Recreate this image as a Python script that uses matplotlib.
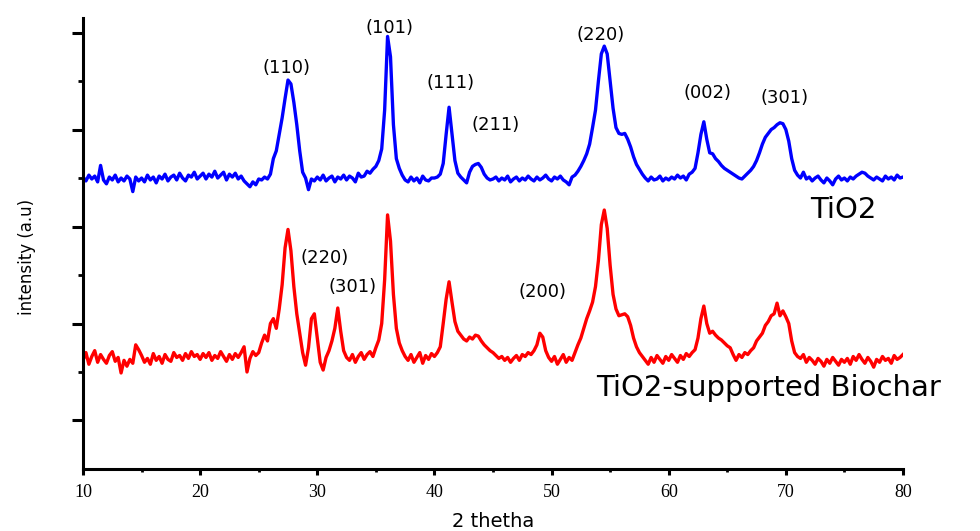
import numpy as np
import matplotlib
matplotlib.use("Agg")
import matplotlib.pyplot as plt
from matplotlib.ticker import FixedLocator

# 2-theta scan, 0.25 deg step from 10 to 80
two_theta = np.arange(281) * 0.25 + 10.0

# TiO2 pattern (arbitrary units)
tio2 = [
    301, 297, 303, 299, 302, 296, 313, 298, 294, 301, 298, 303, 296, 300, 297, 302, 299, 286, 301, 297,
    300, 296, 303, 298, 301, 295, 302, 299, 304, 297, 301, 303, 298, 305, 300, 297, 303, 301, 306, 299,
    302, 305, 299, 304, 301, 307, 300, 303, 306, 298, 304, 301, 305, 299, 302, 297, 294, 291, 296, 293,
    299, 298, 301, 299, 304, 320, 328, 345, 362, 382, 401, 397, 378, 355, 328, 306, 300, 288, 299, 297,
    301, 298, 303, 297, 300, 302, 296, 301, 299, 303, 298, 302, 300, 296, 305, 301, 302, 307, 305, 309,
    312, 318, 330, 370, 446, 425, 355, 320, 310, 303, 298, 296, 301, 297, 300, 295, 302, 298, 297, 300,
    300, 301, 304, 315, 345, 373, 345, 318, 305, 301, 298, 295, 306, 312, 314, 315, 311, 304, 300, 298,
    299, 301, 297, 300, 298, 302, 296, 299, 301, 297, 300, 298, 302, 299, 297, 301, 298, 300, 303, 299,
    297, 301, 299, 302, 298, 296, 293, 301, 303, 307, 312, 318, 325, 335, 352, 370, 400, 428, 436, 428,
    400, 372, 352, 346, 345, 346, 340, 332, 322, 314, 309, 304, 300, 297, 301, 298, 299, 302, 297, 300,
    298, 301, 299, 303, 300, 302, 298, 304, 306, 310, 326, 345, 358, 340, 326, 325, 320, 317, 313, 310,
    308, 306, 304, 302, 300, 299, 302, 305, 308, 312, 318, 326, 335, 342, 346, 350, 352, 355, 357, 356,
    350, 338, 320, 308, 303, 300, 306, 299, 301, 297, 300, 302, 298, 295, 300, 297, 293, 299, 302, 298,
    300, 297, 301, 299, 302, 304, 306, 305, 302, 300, 298, 301, 299, 297, 302, 299, 301, 298, 303, 300,
    301,
]

# TiO2-supported biochar pattern
biochar = [
    112, 120, 108, 116, 122, 110, 118, 113, 109, 117, 121, 111, 115, 99, 112, 106, 113, 109, 128, 123,
    117, 110, 114, 108, 119, 112, 116, 109, 118, 113, 111, 120, 115, 117, 112, 119, 114, 121, 116, 118,
    113, 119, 115, 120, 112, 117, 114, 121, 116, 111, 118, 113, 119, 115, 120, 126, 100, 114, 121, 117,
    120, 130, 138, 132, 150, 155, 145, 165, 190, 228, 247, 225, 188, 160, 140, 120, 107, 125, 155, 160,
    135, 110, 102, 115, 122, 132, 145, 166, 142, 122, 115, 112, 118, 110, 116, 120, 113, 118, 121, 116,
    125, 133, 150, 195, 262, 235, 180, 145, 130, 122, 116, 112, 118, 110, 115, 120, 109, 117, 113, 119,
    116, 120, 126, 150, 175, 193, 172, 152, 142, 138, 134, 132, 136, 134, 138, 137, 132, 128, 125, 122,
    120, 117, 114, 116, 112, 115, 110, 114, 117, 112, 118, 116, 120, 118, 122, 128, 140, 136, 122, 115,
    111, 116, 108, 113, 118, 110, 115, 112, 120, 128, 135, 145, 155, 163, 172, 188, 215, 252, 267, 248,
    210, 180, 165, 158, 159, 160, 157, 148, 135, 126, 120, 116, 112, 108, 115, 110, 117, 113, 109, 116,
    112, 118, 114, 110, 117, 113, 119, 116, 120, 123, 135, 155, 168, 150, 140, 142, 138, 135, 133, 130,
    127, 125, 118, 112, 118, 115, 120, 118, 122, 125, 132, 136, 140, 148, 152, 158, 160, 171, 158, 163,
    157, 150, 132, 120, 116, 114, 118, 110, 115, 112, 108, 114, 111, 106, 113, 109, 115, 111, 107, 113,
    110, 114, 108, 116, 112, 118, 113, 109, 115, 111, 105, 113, 110, 116, 112, 114, 109, 117, 113, 115,
    118,
]

# peak labels: (text, 2theta, height)
tio2_peaks = [("(110)", 27.4, 413), ("(101)", 36.2, 455), ("(111)", 41.4, 398),
              ("(211)", 45.2, 355), ("(220)", 54.15, 447), ("(002)", 63.3, 388),
              ("(301)", 69.9, 382)]
biochar_peaks = [("(220)", 30.6, 218), ("(301)", 33.0, 188), ("(200)", 49.2, 182)]

plt.rcParams['font.family'] = ['DejaVu Sans']

fig = plt.figure(figsize=(9.8, 5.31), dpi=100)
ax = fig.add_axes([0.0847, 0.1168, 0.8367, 0.8493])

ax.plot(two_theta, tio2, color='#0000ff', lw=2.4)
ax.plot(two_theta, biochar, color='#ff0000', lw=2.4)

for label, x, y in tio2_peaks + biochar_peaks:
    ax.text(x, y, label, ha='center', va='center', fontsize=13, color='black')

ax.text(74.9, 267, "TiO2", ha='center', va='center', fontsize=21)
ax.text(53.8, 84, "TiO2-supported Biochar", ha='left', va='center', fontsize=21,
        clip_on=False)

ax.set_xlim(10, 80)
ax.set_ylim(0, 465)

for side in ('top', 'right'):
    ax.spines[side].set_visible(False)
for side in ('left', 'bottom'):
    ax.spines[side].set_linewidth(2.2)

ax.set_xticks(np.arange(10, 81, 10))
ax.xaxis.set_minor_locator(FixedLocator(np.arange(15, 80, 10)))
ax.yaxis.set_major_locator(FixedLocator([50, 150, 250, 350, 450]))
ax.yaxis.set_minor_locator(FixedLocator([100, 200, 300, 400]))
ax.set_yticklabels([])

ax.tick_params(axis='x', which='major', direction='out', length=4, width=2.2, pad=7)
ax.tick_params(axis='x', which='minor', direction='out', length=2.5, width=2.0)
ax.tick_params(axis='y', which='major', direction='out', length=8, width=2.2)
ax.tick_params(axis='y', which='minor', direction='out', length=3.5, width=2.0)
for lbl in ax.get_xticklabels():
    lbl.set_fontfamily('Liberation Serif')
    lbl.set_fontsize(13)

ax.set_xlabel("2 thetha", fontsize=14, labelpad=8)
ax.set_ylabel("intensity (a.u)", fontsize=12)
ax.yaxis.set_label_coords(-0.057, 0.47)

fig.savefig("out.png", dpi=100)
